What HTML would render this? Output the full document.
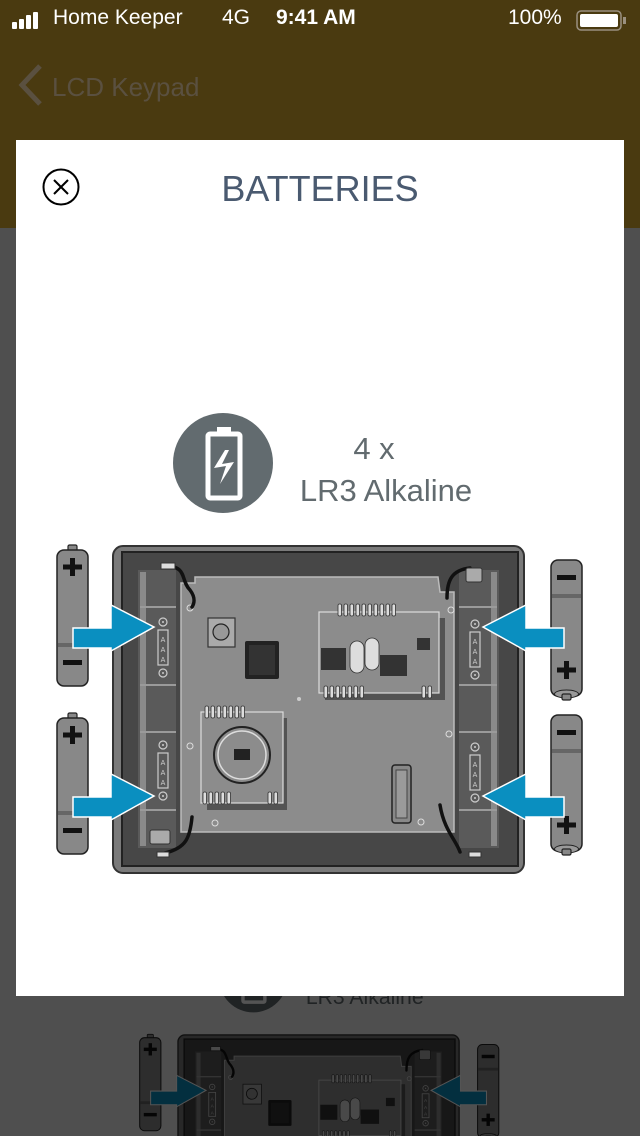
<!DOCTYPE html>
<html><head><meta charset="utf-8"><style>
html,body{margin:0;padding:0;}
body{width:640px;height:1136px;position:relative;overflow:hidden;background:#efefef;font-family:"Liberation Sans",sans-serif;}
#hdr{position:absolute;left:0;top:0;width:640px;height:228px;background:#4a3a10;z-index:2;}
.st{position:absolute;top:6px;color:#fff;font-size:21px;}
#modal{position:absolute;left:16px;top:140px;width:608px;height:856px;background:#fff;overflow:hidden;z-index:3;}
</style></head><body>
<svg width="640" height="1136" style="position:absolute;left:0;top:0">
<defs>
<g id="bat">
 <rect x="11" y="0" width="9" height="6" rx="1.5" fill="#888" stroke="#222" stroke-width="1.2"/>
 <rect x="0" y="5" width="31" height="136" rx="7" fill="#888" stroke="#222" stroke-width="1.5"/>
 <rect x="1" y="98" width="29" height="4" fill="#666"/>
 <rect x="13" y="13" width="5" height="18" fill="#111"/><rect x="6" y="19.5" width="19" height="5" fill="#111"/>
 <rect x="6" y="115" width="19" height="5" fill="#111"/>
</g>
<g id="batr">
 <rect x="0" y="0" width="31" height="136" rx="7" fill="#888" stroke="#222" stroke-width="1.5"/>
 <rect x="1" y="34" width="29" height="4" fill="#666"/>
 <rect x="6" y="15" width="19" height="5" fill="#111"/>
 <rect x="13" y="101" width="5" height="18" fill="#111"/><rect x="6" y="107.5" width="19" height="5" fill="#111"/>
 <ellipse cx="15.5" cy="134" rx="12" ry="4" fill="#999" stroke="#222"/>
 <rect x="11" y="134" width="9" height="6" rx="1.5" fill="#888" stroke="#222" stroke-width="1.2"/>
</g>
<g id="arL"><polygon points="0,11 38,11 38,-12 81,10 38,34 38,31 0,31" fill="#0a8fc0" stroke="#fff" stroke-width="1.5" transform="translate(0,-11)"/></g>
<g id="lbl">
 <circle cx="0" cy="0" r="4" fill="none" stroke="#ccc" stroke-width="1.2"/><circle cx="0" cy="0" r="1" fill="#ccc"/>
 <rect x="-5" y="8" width="10" height="35" fill="none" stroke="#ccc" stroke-width="1.2"/>
 <text x="0" y="20" font-size="7" fill="#ccc" text-anchor="middle" font-family="Liberation Sans">A</text>
 <text x="0" y="30" font-size="7" fill="#ccc" text-anchor="middle" font-family="Liberation Sans">A</text>
 <text x="0" y="40" font-size="7" fill="#ccc" text-anchor="middle" font-family="Liberation Sans">A</text>
 <circle cx="0" cy="51" r="4" fill="none" stroke="#ccc" stroke-width="1.2"/><circle cx="0" cy="51" r="1" fill="#ccc"/>
</g>
<g id="diag">
 <circle cx="223" cy="463" r="50" fill="#626b6f"/>
 <rect x="208" y="434" width="32" height="64" rx="2" fill="none" stroke="#fff" stroke-width="5"/>
 <rect x="217" y="427" width="14" height="6" fill="#fff"/>
 <polygon points="225,450 214,468 226,466 220,484 234,462 222,464 229,450" fill="#fff"/>
 <text x="374" y="459" font-size="31" fill="#626b6f" text-anchor="middle" font-family="Liberation Sans">4 x</text>
 <text x="386" y="501" font-size="31" fill="#626b6f" text-anchor="middle" font-family="Liberation Sans">LR3 Alkaline</text>
 <rect x="113" y="546" width="411" height="327" rx="10" fill="#7a7a7a" stroke="#333" stroke-width="2"/>
 <rect x="122" y="552" width="396" height="314" fill="#474747" stroke="#222" stroke-width="2"/>
 <rect x="138" y="570" width="38" height="278" fill="#5a5a5a"/>
 <rect x="140" y="572" width="6" height="274" fill="#8a8a8a"/>
 <rect x="459" y="570" width="40" height="278" fill="#5a5a5a"/>
 <rect x="491" y="572" width="6" height="274" fill="#8a8a8a"/>
 <g stroke="#9a9a9a" stroke-width="2">
  <line x1="140" y1="607" x2="176" y2="607"/><line x1="140" y1="685" x2="176" y2="685"/><line x1="140" y1="732" x2="176" y2="732"/><line x1="140" y1="810" x2="176" y2="810"/>
  <line x1="459" y1="607" x2="497" y2="607"/><line x1="459" y1="685" x2="497" y2="685"/><line x1="459" y1="732" x2="497" y2="732"/><line x1="459" y1="810" x2="497" y2="810"/>
 </g>
 <polygon points="181,583 195,583 195,577 438,577 440,592 454,592 454,832 181,832" fill="#8c8c8c" stroke="#bbb" stroke-width="1.5"/>
 <use href="#lbl" x="163" y="622"/><use href="#lbl" x="163" y="745"/>
 <use href="#lbl" x="475" y="624"/><use href="#lbl" x="475" y="747"/>
 <rect x="325" y="618" width="120" height="82" fill="#3a3a3a" opacity="0.7"/>
 <rect x="319" y="612" width="120" height="81" fill="#8c8c8c" stroke="#ddd" stroke-width="1.2"/>
 <g fill="#ddd" stroke="#333" stroke-width="0.8">
  <rect x="338" y="604" width="3.5" height="12" rx="1.5"/><rect x="344" y="604" width="3.5" height="12" rx="1.5"/><rect x="350" y="604" width="3.5" height="12" rx="1.5"/><rect x="356" y="604" width="3.5" height="12" rx="1.5"/><rect x="362" y="604" width="3.5" height="12" rx="1.5"/><rect x="368" y="604" width="3.5" height="12" rx="1.5"/><rect x="374" y="604" width="3.5" height="12" rx="1.5"/><rect x="380" y="604" width="3.5" height="12" rx="1.5"/><rect x="386" y="604" width="3.5" height="12" rx="1.5"/><rect x="392" y="604" width="3.5" height="12" rx="1.5"/>
  <rect x="324" y="686" width="3.5" height="12" rx="1.5"/><rect x="330" y="686" width="3.5" height="12" rx="1.5"/><rect x="336" y="686" width="3.5" height="12" rx="1.5"/><rect x="342" y="686" width="3.5" height="12" rx="1.5"/><rect x="348" y="686" width="3.5" height="12" rx="1.5"/><rect x="354" y="686" width="3.5" height="12" rx="1.5"/><rect x="360" y="686" width="3.5" height="12" rx="1.5"/>
  <rect x="422" y="686" width="3.5" height="12" rx="1.5"/><rect x="428" y="686" width="3.5" height="12" rx="1.5"/>
  <rect x="350" y="641" width="14" height="32" rx="7"/><rect x="365" y="638" width="14" height="32" rx="7"/>
 </g>
 <rect x="321" y="648" width="25" height="22" fill="#333"/>
 <rect x="380" y="655" width="27" height="21" fill="#333"/>
 <rect x="417" y="638" width="13" height="12" fill="#333"/>
 <rect x="207" y="718" width="80" height="92" fill="#3a3a3a" opacity="0.7"/>
 <rect x="201" y="712" width="82" height="91" fill="#8c8c8c" stroke="#ddd" stroke-width="1.2"/>
 <g fill="#ddd" stroke="#333" stroke-width="0.8">
  <rect x="205" y="706" width="3.5" height="12" rx="1.5"/><rect x="211" y="706" width="3.5" height="12" rx="1.5"/><rect x="217" y="706" width="3.5" height="12" rx="1.5"/><rect x="223" y="706" width="3.5" height="12" rx="1.5"/><rect x="229" y="706" width="3.5" height="12" rx="1.5"/><rect x="235" y="706" width="3.5" height="12" rx="1.5"/><rect x="241" y="706" width="3.5" height="12" rx="1.5"/>
  <rect x="203" y="792" width="3.5" height="12" rx="1.5"/><rect x="209" y="792" width="3.5" height="12" rx="1.5"/><rect x="215" y="792" width="3.5" height="12" rx="1.5"/><rect x="221" y="792" width="3.5" height="12" rx="1.5"/><rect x="227" y="792" width="3.5" height="12" rx="1.5"/>
  <rect x="268" y="792" width="3.5" height="12" rx="1.5"/><rect x="274" y="792" width="3.5" height="12" rx="1.5"/>
 </g>
 <circle cx="242" cy="755" r="28" fill="#8c8c8c" stroke="#222" stroke-width="2"/>
 <circle cx="242" cy="755" r="24" fill="none" stroke="#ddd" stroke-width="1.5"/>
 <rect x="234" y="749" width="16" height="11" fill="#222"/>
 <rect x="208" y="618" width="27" height="29" fill="#aaa" stroke="#333" stroke-width="1.2"/>
 <circle cx="221" cy="632" r="8" fill="#999" stroke="#222" stroke-width="1.2"/>
 <rect x="245" y="641" width="34" height="38" fill="#222" rx="2"/>
 <rect x="249" y="645" width="26" height="30" fill="#333"/>
 <rect x="392" y="765" width="19" height="58" rx="3" fill="#888" stroke="#222" stroke-width="1.5"/>
 <rect x="396" y="770" width="11" height="48" fill="#9a9a9a" stroke="#444"/>
 <circle cx="299" cy="699" r="2" fill="#ccc"/>
 <g fill="none" stroke="#ddd" stroke-width="1"><circle cx="190" cy="608" r="3"/><circle cx="190" cy="746" r="3"/><circle cx="215" cy="823" r="3"/><circle cx="451" cy="610" r="3"/><circle cx="449" cy="734" r="3"/><circle cx="421" cy="822" r="3"/></g>
 <g fill="none" stroke="#111" stroke-width="3.5" stroke-linecap="round">
  <path d="M165,566 C188,566 180,580 190,590 C196,598 194,604 192,607"/>
  <path d="M447,598 C447,580 452,570 470,568"/>
  <path d="M192,817 C190,838 186,848 165,853"/>
  <path d="M440,805 C444,830 456,840 460,852"/>
 </g>
 <rect x="161" y="563" width="14" height="6" fill="#ddd" stroke="#333"/>
 <rect x="466" y="568" width="16" height="14" rx="2" fill="#aaa" stroke="#333"/>
 <rect x="150" y="830" width="20" height="14" rx="2" fill="#aaa" stroke="#333"/>
 <rect x="157" y="852" width="12" height="5" fill="#ddd" stroke="#333"/>
 <rect x="469" y="852" width="12" height="5" fill="#ddd" stroke="#333"/>
 <use href="#bat" x="57" y="545"/><use href="#bat" x="57" y="713"/>
 <use href="#batr" x="551" y="560"/><use href="#batr" x="551" y="715"/>
 <use href="#arL" x="73" y="628"/><use href="#arL" x="73" y="797"/>
 <use href="#arL" transform="translate(564,628) scale(-1,1)"/><use href="#arL" transform="translate(564,797) scale(-1,1)"/>
</g>
</defs>
<g transform="translate(100.7,661.5) scale(0.684)"><use href="#diag"/></g>
<rect x="0" y="228" width="640" height="908" fill="#000" opacity="0.67"/>
</svg>

<div id="hdr">
  <svg style="position:absolute;left:12px;top:12px" width="34" height="18"><rect x="0" y="10" width="5" height="7" rx="1" fill="#fff"/><rect x="7" y="7" width="5" height="10" rx="1" fill="#fff"/><rect x="14" y="3" width="5" height="14" rx="1" fill="#fff"/><rect x="21" y="0" width="5" height="17" rx="1" fill="#fff"/></svg>
  <div class="st" style="left:53px">Home Keeper</div>
  <div class="st" style="left:222px">4G</div>
  <div class="st" style="left:276px;font-weight:bold">9:41 AM</div>
  <div class="st" style="left:508px">100%</div>
  <svg style="position:absolute;left:576px;top:10px" width="52" height="22"><rect x="1" y="1" width="44" height="19" rx="4" fill="none" stroke="#9a9080" stroke-width="1.5"/><rect x="4" y="4" width="38" height="13" rx="2" fill="#fff"/><rect x="47" y="7" width="3" height="7" fill="#9a9080"/></svg>
  <svg style="position:absolute;left:14px;top:62px" width="30" height="46"><polyline points="26,4 8,23 26,42" fill="none" stroke="#5a5040" stroke-width="5"/></svg>
  <div style="position:absolute;left:52px;top:72px;font-size:26px;color:#5a5040">LCD Keypad</div>
</div>

<div id="modal">
  <svg style="position:absolute;left:0;top:0" width="608" height="856" viewBox="16 140 608 856"><use href="#diag"/></svg>
  <svg style="position:absolute;left:26px;top:28px" width="40" height="40"><circle cx="19" cy="19" r="17.5" fill="none" stroke="#000" stroke-width="2"/><line x1="12" y1="12" x2="26" y2="26" stroke="#000" stroke-width="2"/><line x1="26" y1="12" x2="12" y2="26" stroke="#000" stroke-width="2"/></svg>
  <div style="position:absolute;left:0;width:608px;text-align:center;top:28px;font-size:36px;color:#4a5a70;font-family:'Liberation Sans',sans-serif">BATTERIES</div>
</div>
</body></html>
